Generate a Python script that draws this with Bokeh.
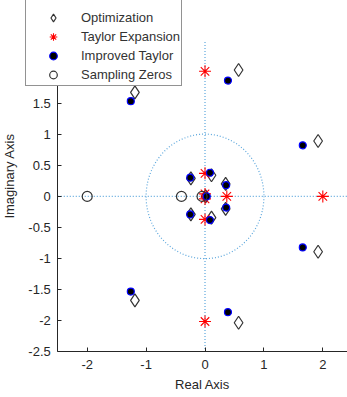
from bokeh.plotting import figure
from bokeh.models import Range1d, FixedTicker, CustomJSTickFormatter, Legend, LegendItem
from bokeh.embed import file_html
from bokeh.resources import INLINE

# ---- data ----
opt_re = [0.57, 0.57, -1.19, -1.19, 1.92, 1.92, 0.11, 0.11, 0.35, 0.35, -0.24, -0.24, 0.01]
opt_im = [2.03, -2.03, 1.67, -1.67, 0.89, -0.89, 0.34, -0.34, 0.20, -0.20, 0.29, -0.29, 0.0]

tay_re = [0.0, 0.0, 2.0, 0.0, 0.0, 0.37, 0.0, 0.0]
tay_im = [2.01, -2.01, 0.0, 0.37, -0.37, 0.0, 0.04, -0.04]

imp_re = [0.39, 0.39, -1.26, -1.26, 1.66, 1.66, 0.085, 0.085, 0.36, 0.36, -0.25, -0.25, 0.03]
imp_im = [1.86, -1.86, 1.53, -1.53, 0.82, -0.82, 0.38, -0.38, 0.18, -0.18, 0.30, -0.29, 0.0]

samp_re = [-2.0, -0.40, -0.05]
samp_im = [0.0, 0.0, 0.0]

x_ticks = [-2, -1, 0, 1, 2]
y_ticks = [-2.5, -2, -1.5, -1, -0.5, 0, 0.5, 1, 1.5, 2, 2.5, 3]
unit_circle_diameter = 2.0
axis_extent = [-2.5, 2.5]

AX = "#262626"
GRID_BLUE = "#5ba6dc"
FONT = "Liberation Sans"
FS = "13px"

p = figure(width=347, height=397, output_backend="svg", toolbar_location=None,
           x_range=Range1d(-3.472, 2.419), y_range=Range1d(-3.231, 3.147),
           min_border_left=0, min_border_right=0, min_border_top=0, min_border_bottom=0)
p.outline_line_color = None
p.grid.visible = False
p.background_fill_color = "white"
p.border_fill_color = "white"

# reference lines (real / imaginary axes and unit circle)
p.line(x=axis_extent, y=[0, 0], line_color=GRID_BLUE, line_dash="1 2", line_width=1.2)
p.line(x=[0, 0], y=axis_extent, line_color=GRID_BLUE, line_dash="1 2", line_width=1.2)
p.ellipse(x=0, y=0, width=unit_circle_diameter, height=unit_circle_diameter,
          fill_color=None, line_color=GRID_BLUE, line_dash="1 2", line_width=1.2)

r_opt = p.scatter(opt_re, opt_im, marker="diamond", size=13, fill_color="white", fill_alpha=0.0,
                  line_color="#333333", line_width=1.2)
r_tay = p.scatter(tay_re, tay_im, marker="asterisk", size=12, line_color="red", line_width=1.1)
r_imp = p.scatter(imp_re, imp_im, marker="circle", size=7, fill_color="black",
                  line_color="blue", line_width=1.2)
r_samp = p.scatter(samp_re, samp_im, marker="circle", size=10, fill_color=None,
                   line_color="#333333", line_width=1.2)

for ax in (p.xaxis[0], p.yaxis[0]):
    ax.axis_line_color = AX
    ax.major_tick_line_color = AX
    ax.major_tick_in = 4
    ax.major_tick_out = 0
    ax.minor_tick_line_color = None
    ax.major_label_text_font = FONT
    ax.major_label_text_font_size = FS
    ax.major_label_text_color = AX
    ax.axis_label_text_font = FONT
    ax.axis_label_text_font_size = FS
    ax.axis_label_text_font_style = "normal"
    ax.axis_label_text_color = AX
    ax.formatter = CustomJSTickFormatter(code="return String(Math.round(tick*10)/10);")

p.xaxis.ticker = FixedTicker(ticks=x_ticks)
p.yaxis.ticker = FixedTicker(ticks=y_ticks)
p.xaxis.bounds = (-2.5, 2.5)
p.yaxis.bounds = (-2.5, 3.2)
p.xaxis.fixed_location = -2.5
p.yaxis.fixed_location = -2.5
p.xaxis.axis_label = "Real Axis"
p.yaxis.axis_label = "Imaginary Axis"
p.xaxis.major_label_standoff = 8
p.xaxis.axis_label_standoff = 5
p.yaxis.major_label_standoff = 7
p.yaxis.axis_label_standoff = 8

legend = Legend(items=[
    LegendItem(label="Optimization", renderers=[r_opt]),
    LegendItem(label="Taylor Expansion", renderers=[r_tay]),
    LegendItem(label="Improved Taylor", renderers=[r_imp]),
    LegendItem(label="Sampling Zeros", renderers=[r_samp]),
], location=(25, 311))
legend.title = " "
legend.title_text_font_size = "13px"
legend.title_standoff = 6
legend.margin = 0
legend.padding = 1
legend.spacing = 0
legend.glyph_width = 52
legend.glyph_height = 19
legend.label_height = 19
legend.label_standoff = 2
legend.label_text_font = FONT
legend.label_text_font_size = FS
legend.label_text_color = "#333333"
legend.border_line_color = AX
legend.border_line_width = 1
legend.background_fill_color = "white"
legend.background_fill_alpha = 1.0
p.add_layout(legend, "center")

open("out.html", "w").write(file_html(p, INLINE))
